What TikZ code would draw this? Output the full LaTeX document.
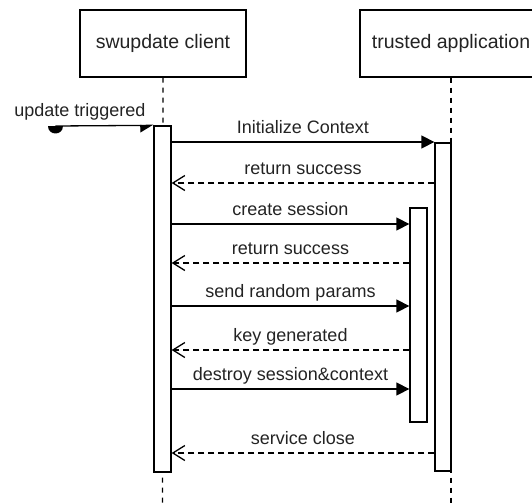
\documentclass[tikz,border=0pt]{standalone}
\usepackage{fontspec}
\setmainfont{Liberation Sans}
\usetikzlibrary{positioning,arrows.meta,calc}
\definecolor{sqText}{RGB}{35,35,35}

\begin{document}
\begin{tikzpicture}[
    x=1pt, y=-1pt,
    line width=1.3pt,
    actor/.style={rectangle, draw, fill=white, minimum width=166pt, minimum height=67pt, font=\fontsize{19.5}{22}\selectfont, text=sqText},
    activation/.style={rectangle, draw, fill=white, minimum width=17pt, inner sep=0pt},
    lifeline/.style={dash pattern=on 5pt off 5pt},
    call/.style={-{Triangle[length=13pt, width=13pt]}},
    found/.style={-{Triangle[length=12pt, width=14pt, right]}},
    reply/.style={dash pattern=on 6pt off 4pt, -{Straight Barb[length=12pt, width=15pt]}},
    msg label/.style={anchor=base, yshift=9pt, inner sep=0pt, font=\fontsize{18}{20}\selectfont, text=sqText}
]
  \useasboundingbox (0,0) rectangle (532,503);

  \node[actor] (client) at (163,43.5) {swupdate client};
  \node[actor, minimum width=182pt] (ta) at (451,43.5) {trusted application};

  \coordinate (clientend) at (162.5,503);
  \coordinate (taend) at (451,503);
  \coordinate (trigger) at (55.5,126);

  % lifelines
  \draw[lifeline] (client.south) -- (clientend);
  \draw[lifeline] (ta.south) -- (taend);

  % activation bars
  \node[activation, minimum height=346pt] (clientbar) at (162.5,299) {};
  \node[activation, minimum width=16pt, minimum height=328pt] (tabar) at (443,307) {};
  \node[activation, minimum height=214pt] (sessbar) at (418.5,315) {};

  % found message
  \fill ($(trigger)+(-7.5,0)$) .. controls +(0,10) and +(0,10) .. ($(trigger)+(7.5,0)$) -- cycle;
  \draw[found] (trigger) -- node[msg label, pos=0.25] {update triggered} (clientbar.north west);

  \draw[call] (clientbar.east |- 0,142) -- node[msg label] {Initialize Context} (tabar.west |- 0,142);
  \draw[reply] (tabar.west |- 0,183) -- node[msg label] {return success} (clientbar.east |- 0,183);
  \draw[call] (clientbar.east |- 0,224) -- node[msg label] {create session} (sessbar.west |- 0,224);
  \draw[reply] (sessbar.west |- 0,263) -- node[msg label] {return success} (clientbar.east |- 0,263);
  \draw[call] (clientbar.east |- 0,306) -- node[msg label] {send random params} (sessbar.west |- 0,306);
  \draw[reply] (sessbar.west |- 0,350) -- node[msg label] {key generated} (clientbar.east |- 0,350);
  \draw[call] (clientbar.east |- 0,389) -- node[msg label] {destroy session\&context} (sessbar.west |- 0,389);
  \draw[reply] (tabar.west |- 0,453) -- node[msg label] {service close} (clientbar.east |- 0,453);
\end{tikzpicture}
\end{document}
